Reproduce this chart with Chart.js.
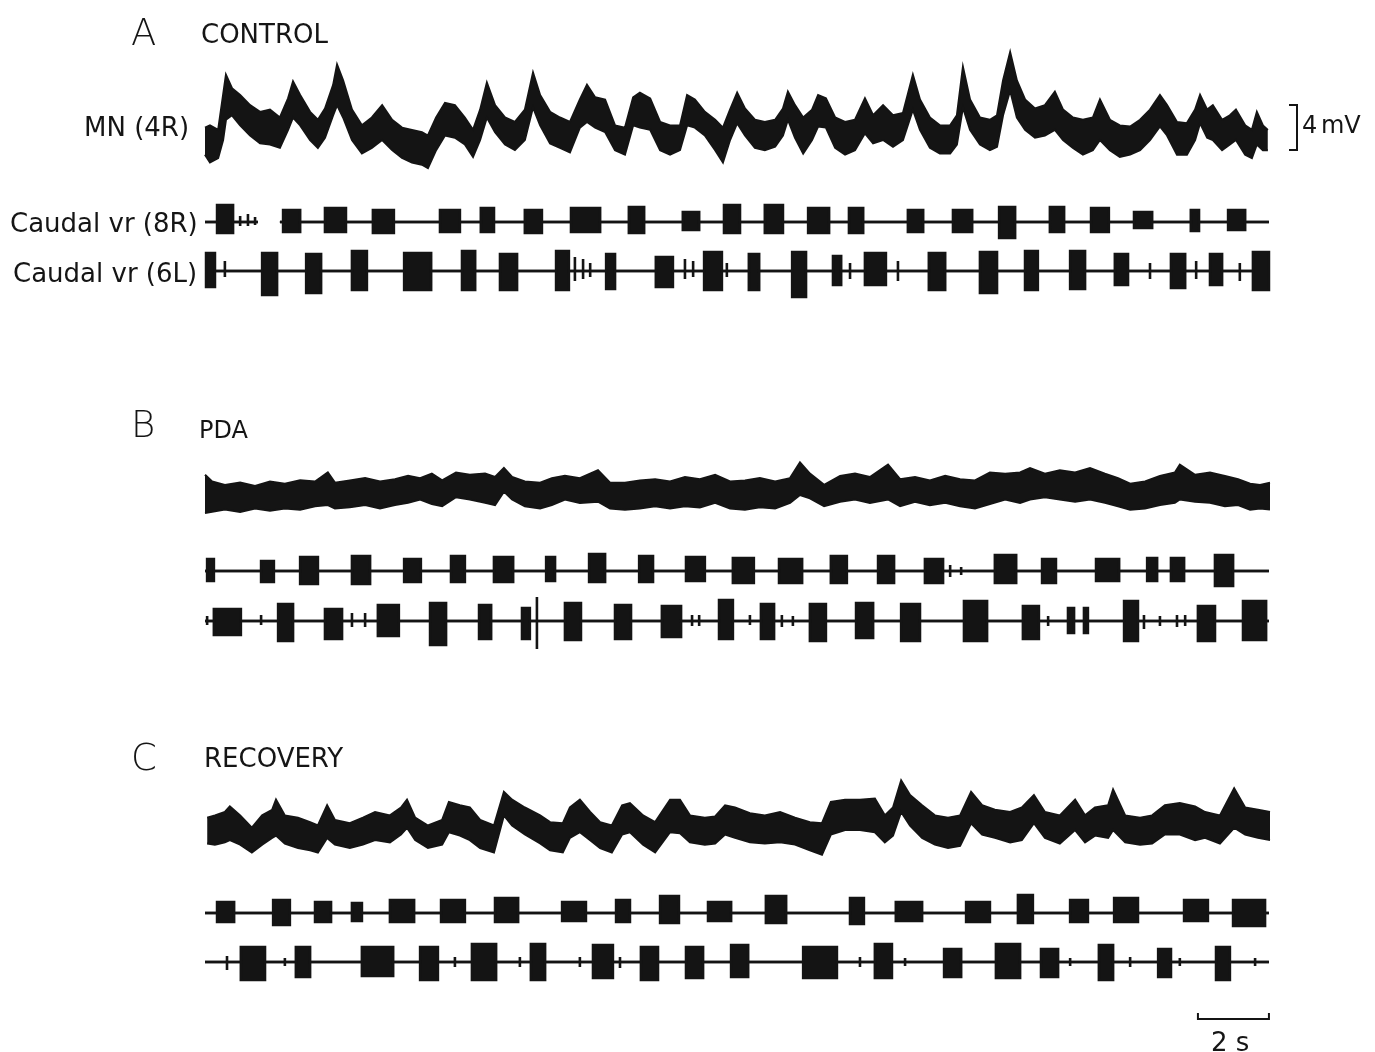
<!DOCTYPE html>
<html><head><meta charset="utf-8">
<script src="https://cdn.jsdelivr.net/npm/chart.js@4.4.1/dist/chart.umd.min.js"></script>
<style>
html,body{margin:0;padding:0;background:#fff;}
#wrap{position:relative;width:1375px;height:1052px;overflow:hidden;background:#fff;}
canvas{position:absolute;left:0;top:0;}
.lbl{position:absolute;font-family:"DejaVu Sans",sans-serif;color:#151515;white-space:nowrap;line-height:1;transform:translateY(-50%);font-size:26px;}
.big{font-size:37px;font-weight:200;}
</style></head><body>
<div id="wrap">
<canvas id="c" width="1375" height="1052"></canvas>
<div class="lbl big" style="left:131px;top:32px;">A</div>
<div class="lbl" style="left:201px;top:34px;">CONTROL</div>
<div class="lbl" style="left:84px;top:127px;">MN (4R)</div>
<div class="lbl" style="left:1302px;top:125px;font-size:24px;word-spacing:-4px;">4 mV</div>
<div class="lbl" style="left:10px;top:223px;">Caudal vr (8R)</div>
<div class="lbl" style="left:13px;top:273px;">Caudal vr (6L)</div>
<div class="lbl big" style="left:131px;top:424px;">B</div>
<div class="lbl" style="left:199px;top:430px;font-size:24px;">PDA</div>
<div class="lbl big" style="left:131px;top:757px;">C</div>
<div class="lbl" style="left:204px;top:758px;">RECOVERY</div>
<div class="lbl" style="left:1211px;top:1042px;">2 s</div>
</div>
<script>
// ---------- DATA (time in s, membrane potential in mV, nerve activity in arbitrary units) ----------
// Motoneuron traces: [time s, upper envelope mV, lower envelope mV] relative to resting level
const mnControl = [[0.00,1.1,-1.3],[0.14,1.3,-2.0],[0.37,0.9,-1.6],[0.51,4.0,0.0],[0.59,5.8,1.8],[0.76,4.6,2.2],[0.99,4.0,1.3],[1.27,3.1,0.4],[1.55,2.5,-0.3],[1.83,2.7,-0.4],[2.11,2.0,-0.7],[2.34,3.7,0.9],[2.48,5.2,2.0],[2.68,4.0,1.3],[2.96,2.5,0.0],[3.18,1.8,-0.7],[3.38,2.8,0.2],[3.61,4.9,2.2],[3.72,6.7,3.1],[3.89,5.3,2.0],[4.14,2.7,0.0],[4.42,1.3,-1.2],[4.70,2.0,-0.7],[4.99,3.1,0.0],[5.27,1.8,-0.9],[5.55,1.1,-1.6],[5.83,0.9,-2.0],[6.11,0.7,-2.2],[6.28,0.4,-2.5],[6.51,2.0,-0.9],[6.76,3.3,0.4],[7.04,3.1,0.2],[7.32,2.0,-0.4],[7.55,0.9,-1.5],[7.75,2.7,0.0],[7.94,5.1,2.0],[8.17,3.1,0.7],[8.45,2.0,-0.4],[8.73,1.6,-0.9],[9.01,2.7,0.0],[9.24,6.0,2.9],[9.44,4.0,1.3],[9.72,2.5,-0.3],[10.00,2.0,-0.7],[10.28,1.6,-1.1],[10.56,3.6,1.1],[10.76,4.9,1.6],[10.99,3.8,1.1],[11.27,3.6,0.7],[11.55,1.3,-0.9],[11.83,1.1,-1.3],[12.06,3.8,1.3],[12.25,4.2,1.1],[12.54,3.7,0.9],[12.82,1.6,-0.9],[13.10,1.3,-1.3],[13.38,1.3,-0.9],[13.58,4.0,1.3],[13.80,3.6,1.1],[14.08,2.5,0.4],[14.37,1.8,-0.9],[14.59,1.1,-2.0],[14.79,2.7,0.0],[14.99,4.2,1.5],[15.21,2.8,0.4],[15.49,1.8,-0.7],[15.77,1.6,-0.9],[16.06,1.8,-0.6],[16.28,2.8,0.4],[16.42,4.3,1.8],[16.62,3.1,0.2],[16.85,2.0,-1.2],[17.10,2.7,0.0],[17.27,4.0,1.2],[17.49,3.7,1.1],[17.75,2.0,-0.7],[18.03,1.6,-1.3],[18.31,1.8,-0.9],[18.59,3.7,0.6],[18.82,2.2,-0.3],[19.10,3.1,0.0],[19.38,2.2,-0.6],[19.66,2.4,0.0],[19.94,5.8,2.7],[20.14,3.6,0.9],[20.42,2.0,-0.7],[20.70,1.3,-1.2],[20.99,1.3,-1.2],[21.18,2.2,-0.4],[21.35,6.5,2.9],[21.55,3.6,0.9],[21.83,2.0,-0.4],[22.11,1.8,-0.9],[22.31,2.2,-0.6],[22.48,5.3,2.2],[22.68,7.8,4.4],[22.87,5.3,2.0],[23.10,3.6,0.9],[23.38,2.8,0.2],[23.66,3.1,0.4],[23.94,4.3,0.9],[24.17,2.7,0.0],[24.45,2.0,-0.7],[24.73,1.8,-1.3],[25.01,2.0,-0.9],[25.21,3.6,0.0],[25.49,1.8,-0.9],[25.77,1.3,-1.5],[26.06,1.2,-1.3],[26.34,1.8,-0.9],[26.62,2.7,0.0],[26.90,4.0,1.2],[27.10,3.1,0.4],[27.38,1.6,-1.3],[27.66,1.5,-1.3],[27.89,2.7,0.0],[28.03,4.0,1.5],[28.23,2.7,0.2],[28.39,3.1,0.0],[28.65,1.8,-0.9],[28.87,2.2,-0.4],[29.04,2.7,0.0],[29.30,1.3,-1.3],[29.49,0.9,-1.6],[29.63,2.5,-0.4],[29.80,1.3,-0.9],[29.94,0.9,-0.9]];
const mnPDA = [[0.00,1.8,-1.6],[0.20,1.2,-1.5],[0.56,0.9,-1.3],[0.99,1.1,-1.5],[1.41,0.8,-1.2],[1.83,1.2,-1.4],[2.25,1.0,-1.2],[2.68,1.3,-1.3],[3.10,1.2,-1.0],[3.46,2.0,-0.9],[3.66,1.1,-1.2],[4.08,1.3,-1.1],[4.51,1.5,-0.9],[4.93,1.2,-1.2],[5.35,1.4,-0.9],[5.72,1.7,-0.7],[6.06,1.5,-0.4],[6.39,1.9,-0.8],[6.68,1.3,-1.0],[7.07,2.0,-0.2],[7.46,1.8,-0.4],[7.89,1.9,-0.7],[8.17,1.6,-0.9],[8.42,2.4,0.3],[8.65,1.6,-0.4],[9.01,1.2,-1.0],[9.44,1.1,-1.2],[9.77,1.5,-0.9],[10.14,1.7,-0.4],[10.56,1.5,-0.7],[11.07,2.2,-0.6],[11.41,1.1,-1.2],[11.83,1.1,-1.3],[12.25,1.3,-1.2],[12.68,1.4,-1.0],[13.10,1.2,-1.2],[13.52,1.6,-1.0],[13.94,1.4,-1.1],[14.37,1.8,-0.7],[14.79,1.2,-1.2],[15.21,1.3,-1.3],[15.63,1.5,-1.1],[16.06,1.2,-1.2],[16.48,1.5,-0.7],[16.76,2.9,0.0],[17.04,1.9,-0.3],[17.44,0.9,-1.0],[17.89,1.7,-0.6],[18.31,1.9,-0.4],[18.73,1.6,-0.7],[19.24,2.7,-0.4],[19.58,1.4,-1.0],[20.00,1.6,-0.6],[20.42,1.3,-0.9],[20.85,1.7,-0.7],[21.27,1.4,-1.0],[21.69,1.3,-1.2],[22.11,2.0,-0.8],[22.54,1.9,-0.4],[22.96,2.0,-0.7],[23.24,2.4,-0.4],[23.66,1.9,-0.2],[24.08,2.2,-0.4],[24.51,2.0,-0.6],[24.93,2.4,-0.4],[25.35,1.9,-0.7],[25.72,1.5,-1.0],[26.06,1.0,-1.3],[26.48,1.2,-1.2],[26.90,1.7,-0.9],[27.32,2.0,-0.7],[27.46,2.7,-0.4],[27.89,1.8,-0.6],[28.31,2.0,-0.7],[28.73,1.7,-1.0],[29.10,1.4,-0.9],[29.44,1.0,-1.3],[29.72,0.9,-1.2],[30.00,1.1,-1.3]];
const mnRecovery = [[0.06,1.1,-1.2],[0.28,1.3,-1.3],[0.56,1.6,-1.1],[0.70,2.1,-0.9],[0.99,1.3,-1.3],[1.32,0.2,-2.0],[1.61,1.3,-1.3],[1.89,1.8,-0.7],[2.00,2.7,-0.5],[2.25,1.3,-1.2],[2.62,1.1,-1.6],[2.96,0.7,-1.8],[3.18,0.4,-2.0],[3.44,2.2,-0.7],[3.66,0.9,-1.3],[4.08,0.6,-1.6],[4.45,1.1,-1.3],[4.79,1.6,-0.9],[5.21,1.3,-1.1],[5.52,2.0,-0.4],[5.69,2.7,0.2],[5.92,1.1,-0.9],[6.28,0.4,-1.6],[6.68,0.9,-1.3],[6.87,2.5,-0.2],[7.18,2.2,-0.5],[7.46,2.0,-0.9],[7.75,0.9,-1.6],[8.14,0.4,-2.0],[8.42,3.4,1.3],[8.65,2.7,0.4],[9.01,2.0,-0.4],[9.44,1.3,-1.2],[9.72,0.7,-1.8],[10.08,0.6,-2.0],[10.28,2.0,-0.7],[10.56,2.7,-0.2],[10.85,1.6,-0.9],[11.13,0.7,-1.6],[11.46,0.4,-2.0],[11.75,2.2,-0.4],[11.97,2.4,-0.2],[12.34,1.3,-1.3],[12.68,0.7,-2.0],[13.10,2.7,-0.2],[13.38,2.7,-0.3],[13.66,1.3,-1.1],[14.08,1.1,-1.3],[14.37,1.2,-1.2],[14.65,2.2,-0.4],[14.93,2.0,-0.7],[15.35,1.5,-1.1],[15.77,1.3,-1.2],[16.20,1.6,-1.1],[16.62,1.1,-1.3],[17.04,0.7,-1.8],[17.38,0.6,-2.2],[17.63,2.5,-0.4],[18.03,2.7,0.0],[18.45,2.7,0.0],[18.87,2.8,-0.2],[19.15,1.3,-1.1],[19.38,2.0,-0.5],[19.61,4.4,1.6],[19.86,3.1,0.4],[20.20,2.2,-0.7],[20.56,1.3,-1.3],[20.93,1.1,-1.6],[21.27,1.3,-1.4],[21.58,3.4,0.6],[21.89,2.2,-0.4],[22.25,1.8,-0.7],[22.68,1.6,-1.1],[23.01,2.0,-0.9],[23.35,3.1,0.6],[23.66,1.6,-0.7],[24.08,1.3,-1.2],[24.51,2.7,0.0],[24.79,1.3,-1.1],[25.07,2.0,-0.5],[25.44,2.2,-0.7],[25.58,3.6,0.0],[25.92,1.3,-1.1],[26.34,1.1,-1.3],[26.68,1.3,-1.2],[27.04,2.2,-0.4],[27.46,2.4,-0.4],[27.89,2.1,-0.9],[28.17,1.6,-0.7],[28.59,1.3,-1.2],[28.99,3.7,0.2],[29.30,2.0,-0.4],[29.66,1.8,-0.7],[30.00,1.6,-0.9]];

// Ventral root bursts: [start s, end s, upward amplitude, downward amplitude] (arbitrary units)
const vr8R_control = [[0.34,0.79,8.5,5.5],[2.20,2.68,6,5],[3.38,3.97,7,5],[4.73,5.32,6,5.5],[6.62,7.18,6,5],[7.77,8.14,7,5],[9.01,9.49,6,5.5],[10.31,11.13,7,5],[11.94,12.37,7.5,5.5],[13.46,13.92,5,4],[14.62,15.07,8.5,5.5],[15.77,16.28,8.5,5.5],[16.99,17.58,7,5.5],[18.14,18.54,7,5.5],[19.80,20.23,6,5],[21.07,21.61,6,5],[22.37,22.82,7.5,8],[23.80,24.20,7.5,5],[24.96,25.46,7,5],[26.17,26.68,5,3],[27.77,28.00,6,4.5],[28.82,29.30,6,4]];
const vr6L_control = [[0.03,0.28,9,8],[1.61,2.03,9,12],[2.85,3.27,8.5,11],[4.14,4.56,10,9.5],[5.61,6.37,9,9.5],[7.24,7.61,10,9.5],[8.31,8.79,8.5,9.5],[9.89,10.25,10,9.5],[11.30,11.55,8.5,9],[12.70,13.18,7,8],[14.06,14.56,9.5,9.5],[15.32,15.61,8.5,9.5],[16.54,16.93,9.5,13],[17.69,17.92,7.5,7],[18.59,19.18,9,7],[20.39,20.85,9,9.5],[21.83,22.31,9.5,11],[23.10,23.46,10,9.5],[24.37,24.79,10,9],[25.63,26.00,8.5,7],[27.21,27.61,8.5,8.5],[28.31,28.65,8.5,7],[29.52,29.97,9.5,9.5]];
const vr8R_pda = [[0.06,0.25,6,5],[1.58,1.94,5,5.5],[2.68,3.18,7,6.5],[4.14,4.65,7.5,6.5],[5.61,6.08,6,5.5],[6.93,7.32,7.5,5.5],[8.14,8.68,7,5.5],[9.61,9.86,7,5],[10.82,11.27,8.5,5.5],[12.23,12.62,7.5,5.5],[13.55,14.08,7,5],[14.87,15.46,6.5,6],[16.17,16.82,6,6],[17.63,18.08,7.5,6],[18.96,19.41,7.5,6],[20.28,20.79,6,6],[22.25,22.85,8,6],[23.58,23.97,6,6],[25.10,25.75,6,5],[26.54,26.82,6.5,5],[27.21,27.58,6.5,5],[28.45,28.96,8,7.5]];
const vr6L_pda = [[0.25,1.01,6,7],[2.06,2.48,8.5,10],[3.38,3.86,6,9],[4.87,5.46,8,7.5],[6.34,6.79,9,12],[7.72,8.06,8,9],[8.93,9.15,6.5,9],[10.14,10.59,9,9.5],[11.55,12.00,8,9],[12.87,13.41,7.5,8],[14.48,14.87,10.5,9],[15.66,16.03,8.5,9],[17.04,17.49,8.5,10],[18.34,18.82,9,8.5],[19.61,20.14,8.5,10],[21.38,22.03,10,10],[23.04,23.49,7.5,9],[24.31,24.48,6.5,6],[24.76,24.87,6.5,6],[25.89,26.28,10,10],[27.97,28.45,7.5,10],[29.24,29.89,10,9.5]];
const vr8R_recovery = [[0.34,0.82,5.5,4.5],[1.92,2.39,6.5,6],[3.10,3.55,5.5,4.5],[4.14,4.42,5,4],[5.21,5.89,6.5,4.5],[6.65,7.32,6.5,4.5],[8.17,8.82,7.5,4.5],[10.06,10.73,5.5,4],[11.58,11.97,6.5,4.5],[12.82,13.35,8.5,5],[14.17,14.82,5.5,4],[15.80,16.37,8.5,5],[18.17,18.56,7.5,5.5],[19.46,20.20,5.5,4],[21.44,22.11,5.5,4.5],[22.90,23.32,9,5],[24.37,24.87,6.5,4.5],[25.61,26.28,7.5,4.5],[27.58,28.25,6.5,4],[28.96,29.86,6.5,6.5]];
const vr6L_recovery = [[1.01,1.69,7.5,9],[2.56,2.96,7.5,7.5],[4.42,5.30,7.5,7],[6.06,6.56,7.5,9],[7.52,8.20,9,9],[9.18,9.58,9,9],[10.93,11.49,8.5,8],[12.28,12.76,7.5,9],[13.55,14.03,7.5,8],[14.82,15.30,8.5,7.5],[16.85,17.80,7.5,8],[18.87,19.35,9,8],[20.82,21.30,6.5,7.5],[22.28,22.96,9,8],[23.55,24.03,6.5,7.5],[25.18,25.58,8.5,9],[26.85,27.21,6.5,7.5],[28.48,28.87,7.5,9]];

// Isolated single spikes between bursts: [time s, up, down]
const spikes8R_control = [[0.99,3,2],[1.21,4,2],[1.41,2.5,1.5]];
const spikes6L_control = [[0.56,5,3],[10.42,7,5],[10.65,6,4],[10.85,4,3],[13.52,6,4],[13.75,5,3],[14.70,4,3],[18.17,4,4],[19.52,5,5],[26.62,4,4],[27.92,5,4],[29.15,4,5]];
const spikes8R_pda = [[20.99,3,3],[21.30,2,2]];
const spikes6L_pda = [[0.06,2.5,2],[1.58,3,2],[4.14,4,3],[4.51,4,3],[9.35,12,14],[13.72,3,2.5],[13.92,3,2.5],[15.35,3,2],[16.25,3,3],[16.56,2.5,2.5],[23.75,2.5,2.5],[26.45,3,4],[26.90,2.5,2.5],[27.38,3,3],[27.61,3,2.5]];
const spikes8R_recovery = [];
const spikes6L_recovery = [[0.62,3,4],[2.25,2,2],[7.04,2.5,2.5],[8.87,2.5,2.5],[10.56,2.5,2.5],[11.69,2.5,3],[18.45,2.5,2.5],[19.72,2,2],[24.37,2,2],[26.06,2.5,2.5],[27.46,2,2],[29.58,2,2]];
// Stretch of the 8R control record where the trace drops out: [from s, to s]
const gap8R_control = [[1.49, 2.11]];

const recordEnd = 29.97;   // s
const scaleBarMV = 4;      // mV
const scaleBarSec = 2;     // s

// ---------- LAYOUT (pixels) ----------
const L = {
  W: 1375, H: 1052,
  originPx: 205, pxPerSec: 35.5, pxPerMV: 11.25, pxPerUnit: 2,
  rows: {
    A: {mn: 140, r8: 222, l6: 271},
    B: {mn: 495, r8: 571, l6: 621},
    C: {mn: 830, r8: 913, l6: 962}
  },
  mvBarX: 1297, mvBarTop: 105, tickPx: 8,
  sBarY: 1019, sBarTick: 6
};

const INK = '#141414';
function mnSets(rows, base) {
  const k = L.pxPerMV;
  const up = rows.map(r => ({x: r[0], y: base - r[1] * k}));
  const dn = rows.map(r => ({x: r[0], y: base - r[2] * k}));
  return [
    {data: up, borderColor: INK, borderWidth: 2, pointRadius: 0, fill: false, tension: 0},
    {data: dn, borderColor: INK, borderWidth: 2, pointRadius: 0, fill: '-1', backgroundColor: INK, tension: 0}
  ];
}
function vrSets(bursts, spikes, base, gaps) {
  const k = L.pxPerUnit;
  const ev = bursts.map(b => ({s: b[0], e: b[1], u: b[2], d: b[3]}))
    .concat(spikes.map(p => ({s: p[0], e: p[0], u: p[1], d: p[2]})))
    .concat((gaps || []).map(g => ({s: g[0], e: g[1], gap: true})));
  ev.sort((a, b) => a.s - b.s);
  const up = [{x: 0, y: base}], dn = [{x: 0, y: base}];
  ev.forEach(v => {
    if (v.gap) {
      up.push({x: v.s, y: base}, {x: v.s, y: null}, {x: v.e, y: base});
      dn.push({x: v.s, y: base}, {x: v.s, y: null}, {x: v.e, y: base});
      return;
    }
    up.push({x: v.s, y: base}, {x: v.s, y: base - v.u * k}, {x: v.e, y: base - v.u * k}, {x: v.e, y: base});
    dn.push({x: v.s, y: base}, {x: v.s, y: base + v.d * k}, {x: v.e, y: base + v.d * k}, {x: v.e, y: base});
  });
  up.push({x: recordEnd, y: base}); dn.push({x: recordEnd, y: base});
  return [
    {data: up, borderColor: INK, borderWidth: 2.6, pointRadius: 0, fill: false, tension: 0, spanGaps: false},
    {data: dn, borderColor: INK, borderWidth: 2.6, pointRadius: 0, fill: '-1', backgroundColor: INK, tension: 0, spanGaps: false}
  ];
}
function scaleBarSets() {
  const tb = (L.mvBarX - L.originPx) / L.pxPerSec;
  const tk = L.tickPx / L.pxPerSec;
  const yb = L.mvBarTop + scaleBarMV * L.pxPerMV;
  const t1 = recordEnd, t0 = recordEnd - scaleBarSec;
  return [
    {data: [{x: tb - tk, y: L.mvBarTop}, {x: tb, y: L.mvBarTop}, {x: tb, y: yb}, {x: tb - tk, y: yb}],
     borderColor: INK, borderWidth: 2, pointRadius: 0, fill: false, tension: 0},
    {data: [{x: t0, y: L.sBarY - L.sBarTick}, {x: t0, y: L.sBarY}, {x: t1, y: L.sBarY}, {x: t1, y: L.sBarY - L.sBarTick}],
     borderColor: INK, borderWidth: 2, pointRadius: 0, fill: false, tension: 0}
  ];
}

const datasets = [].concat(
  mnSets(mnControl, L.rows.A.mn),
  vrSets(vr8R_control, spikes8R_control, L.rows.A.r8, gap8R_control),
  vrSets(vr6L_control, spikes6L_control, L.rows.A.l6),
  mnSets(mnPDA, L.rows.B.mn),
  vrSets(vr8R_pda, spikes8R_pda, L.rows.B.r8),
  vrSets(vr6L_pda, spikes6L_pda, L.rows.B.l6),
  mnSets(mnRecovery, L.rows.C.mn),
  vrSets(vr8R_recovery, spikes8R_recovery, L.rows.C.r8),
  vrSets(vr6L_recovery, spikes6L_recovery, L.rows.C.l6),
  scaleBarSets()
);

new Chart(document.getElementById('c'), {
  type: 'line',
  data: {datasets},
  options: {
    responsive: false, animation: false, devicePixelRatio: 1,
    layout: {padding: 0},
    plugins: {legend: {display: false}, tooltip: {enabled: false}, title: {display: false}},
    elements: {line: {borderJoinStyle: 'miter', capBezierPoints: false}},
    scales: {
      x: {type: 'linear', display: false, min: -L.originPx / L.pxPerSec, max: (L.W - L.originPx) / L.pxPerSec},
      y: {type: 'linear', display: false, min: 0, max: L.H, reverse: true}
    }
  }
});
</script>
</body></html>
